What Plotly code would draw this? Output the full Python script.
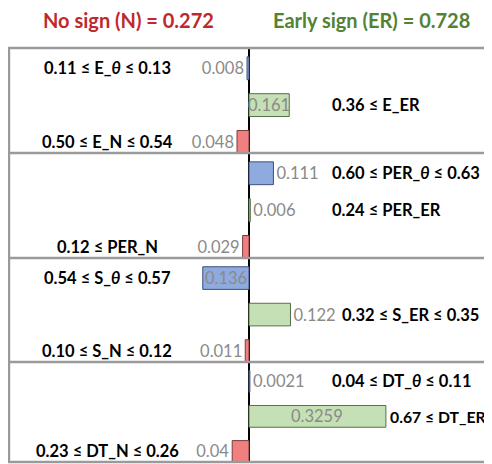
import plotly.graph_objects as go
from plotly.subplots import make_subplots

# ---------------- data ----------------
panels = ["E", "PER", "S", "DT"]
theta_values = [-0.008, 0.111, -0.136, 0.0021]
er_values = [0.161, 0.006, 0.122, 0.3259]
n_values = [-0.048, -0.029, -0.011, -0.04]
theta_text = ["0.008", "0.111", "0.136", "0.0021"]
er_text = ["0.161", "0.006", "0.122", "0.3259"]
n_text = ["0.048", "0.029", "0.011", "0.04"]

theta_labels = ["0.11 ≤ E_θ ≤ 0.13", "0.60 ≤ PER_θ ≤ 0.63", "0.54 ≤ S_θ ≤ 0.57", "0.04 ≤ DT_θ ≤ 0.11"]
er_labels = ["0.36 ≤ E_ER", "0.24 ≤ PER_ER", "0.32 ≤ S_ER ≤ 0.35", "0.67 ≤ DT_ER"]
n_labels = ["0.50 ≤ E_N ≤ 0.54", "0.12 ≤ PER_N", "0.10 ≤ S_N ≤ 0.12", "0.23 ≤ DT_N ≤ 0.26"]

title_n = "No sign (N) = 0.272"
title_er = "Early sign (ER) = 0.728"

# ---------------- style / layout ----------------
OFF = 8                      # page body margin: figure starts at window (8, 8)
W, H = 484, 456              # figure size
ML, MR, MT, MB = 0, 2, 40, 2
plot_w = W - ML - MR
plot_h = H - MT - MB
center_win = 249             # window px of the zero line
scales = [250, 220, 340, 420]  # px per unit for each panel
divider_win = [153, 258, 362]
panel_edges_win = [MT + OFF] + divider_win + [H - MB + OFF]

FONT = "Lato"
LABEL_SIZE = 16.5
VAL_SIZE = 16.5
fill = {"theta": "#8eaadf", "er": "#c5e0b4", "n": "#f08080"}
edge = {"theta": "#3c4f7a", "er": "#55704a", "n": "#7a3a3a"}
GRAY_TXT = "#8a8a8a"
FRAME = "#9a9a9a"
RIGHT_LIMIT_WIN = 489
INSIDE_MIN = 0.13

CHAR_EM = {".": 0.25, " ": 0.26, "≤": 0.58, "_": 0.5, "θ": 0.56, "D": 0.72, "T": 0.58,
           "E": 0.57, "R": 0.64, "S": 0.54, "P": 0.62, "N": 0.74}


def text_w(s, size, bold=True):
    em = sum(CHAR_EM.get(c, 0.58) for c in s)
    return em * size * (1.05 if bold else 0.98)


def ypaper(win_px):
    return (H - MB - (win_px - OFF)) / plot_h


def xpaper(win_px):
    return (win_px - OFF - ML) / plot_w


def fmt(s):
    return "<b>" + s.replace("θ", "<i>θ</i>") + "</b>"


fig = make_subplots(rows=4, cols=1, vertical_spacing=0, shared_xaxes=False)

rows_pos = {"theta": 0, "er": 1, "n": 2}
center_fig = center_win - OFF - ML
left_px = center_fig
right_px = plot_w - center_fig

for i in range(4):
    r = i + 1
    yref = "y" if r == 1 else f"y{r}"
    xref = "x" if r == 1 else f"x{r}"
    for key, vals, txts in (("theta", theta_values, theta_text),
                            ("er", er_values, er_text),
                            ("n", n_values, n_text)):
        v = vals[i]
        inside = abs(v) > INSIDE_MIN
        fig.add_trace(go.Bar(
            x=[v], y=[rows_pos[key]], orientation="h",
            width=0.62,
            marker=dict(color=fill[key], line=dict(color=edge[key], width=1)),
            text=None if inside else [txts[i]],
            textposition="none" if inside else "outside",
            textfont=dict(family=FONT, size=VAL_SIZE, color=GRAY_TXT),
            cliponaxis=False,
            showlegend=False,
            hoverinfo="skip",
        ), row=r, col=1)
        if inside:
            fig.add_annotation(x=v / 2, xref=xref, y=rows_pos[key], yref=yref,
                               text=txts[i], showarrow=False,
                               xanchor="center", yanchor="middle",
                               font=dict(family=FONT, size=VAL_SIZE, color=GRAY_TXT))

    a_left = left_px / scales[i]
    a_right = right_px / scales[i]
    xname = "xaxis" if r == 1 else f"xaxis{r}"
    yname = "yaxis" if r == 1 else f"yaxis{r}"
    fig.layout[xname].update(range=[-a_left, a_right], visible=True, showticklabels=False,
                             showgrid=False, zeroline=True, zerolinecolor="black",
                             zerolinewidth=2, showline=False, ticks="")
    fig.layout[yname].update(range=[2.3, -0.55], showticklabels=False, showgrid=False,
                             zeroline=False, showline=False, ticks="",
                             domain=[ypaper(panel_edges_win[r]), ypaper(panel_edges_win[r - 1])])

    left_x = xpaper(107)

    def add_label(text, key, val, vtxt):
        if key == "n" or (key == "theta" and val < 0):
            fig.add_annotation(x=left_x, xref="paper", y=rows_pos[key], yref=yref,
                               text=fmt(text), showarrow=False,
                               xanchor="center", yanchor="middle",
                               font=dict(family=FONT, size=LABEL_SIZE, color="black"))
        else:
            bar_end_win = center_win + val * scales[i]
            if abs(val) > INSIDE_MIN:
                start_win = max(330, bar_end_win + 2)
            else:
                start_win = max(330, bar_end_win + text_w(vtxt, VAL_SIZE, False) + 8)
            avail = RIGHT_LIMIT_WIN - start_win
            est_w = text_w(text, LABEL_SIZE)
            size = LABEL_SIZE if est_w <= avail else max(12, LABEL_SIZE * avail / est_w)
            fig.add_annotation(x=xpaper(start_win), xref="paper", y=rows_pos[key], yref=yref,
                               text=fmt(text), showarrow=False,
                               xanchor="left", yanchor="middle",
                               font=dict(family=FONT, size=size, color="black"))

    add_label(theta_labels[i], "theta", theta_values[i], theta_text[i])
    add_label(er_labels[i], "er", er_values[i], er_text[i])
    add_label(n_labels[i], "n", n_values[i], n_text[i])

# frame and dividers
fig.add_shape(type="rect", xref="paper", yref="paper", x0=0.002, x1=1, y0=0, y1=1,
              line=dict(color=FRAME, width=2.5), layer="above")
for d in divider_win:
    fig.add_shape(type="line", xref="paper", yref="paper", x0=0, x1=1,
                  y0=ypaper(d), y1=ypaper(d), line=dict(color=FRAME, width=2.5), layer="above")

# titles
fig.add_annotation(x=xpaper(128), y=ypaper(20), xref="paper", yref="paper",
                   text=f"<b>{title_n}</b>", showarrow=False, xanchor="center", yanchor="middle",
                   font=dict(family=FONT, size=20, color="#c0282d"))
fig.add_annotation(x=xpaper(371), y=ypaper(20), xref="paper", yref="paper",
                   text=f"<b>{title_er}</b>", showarrow=False, xanchor="center", yanchor="middle",
                   font=dict(family=FONT, size=20, color="#548235"))

fig.update_layout(
    width=W, height=H,
    margin=dict(l=ML, r=MR, t=MT, b=MB),
    plot_bgcolor="white", paper_bgcolor="white",
    barmode="overlay",
    showlegend=False,
)

fig.write_html("out.html")
